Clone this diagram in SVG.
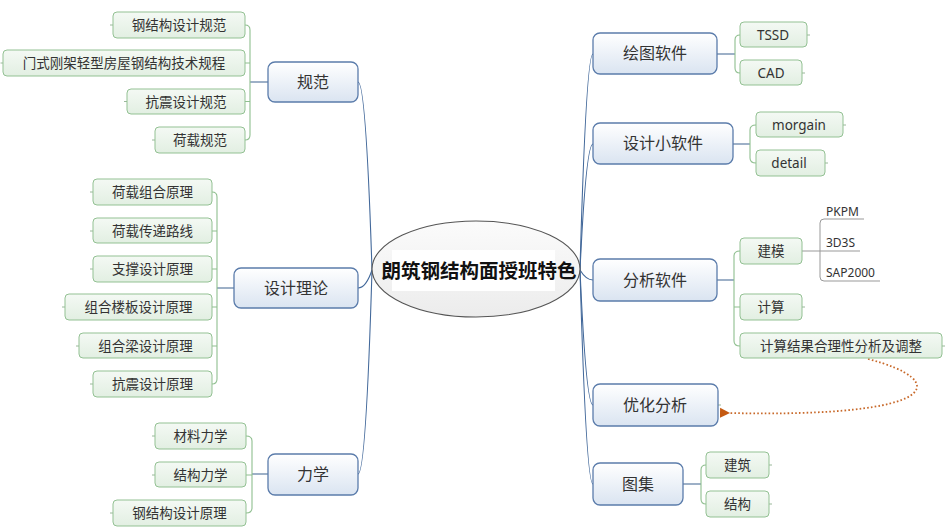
<svg xmlns="http://www.w3.org/2000/svg" width="946" height="530" viewBox="0 0 946 530">
<defs>
<linearGradient id="gBlue" x1="0" y1="0" x2="0" y2="1"><stop offset="0" stop-color="#ffffff"/><stop offset="1" stop-color="#dae4f1"/></linearGradient>
<linearGradient id="gGreen" x1="0" y1="0" x2="0" y2="1"><stop offset="0" stop-color="#f4f9f4"/><stop offset="1" stop-color="#e2efe2"/></linearGradient>
<linearGradient id="gCenter" x1="0" y1="0" x2="0" y2="1"><stop offset="0" stop-color="#fbfbfb"/><stop offset="1" stop-color="#ececec"/></linearGradient>
<marker id="arr" viewBox="0 0 10 10" refX="1" refY="5" markerWidth="10" markerHeight="12" markerUnits="userSpaceOnUse" orient="auto-start-reverse"><path d="M0,5 L10,0 L10,10 Z" fill="#c55a11"/></marker>
</defs>
<style>
.main rect{fill:url(#gBlue);stroke:#5b7cab;stroke-width:1.3}
.main text{font-family:"Noto Sans CJK SC","Noto Sans",sans-serif;font-size:16px;fill:#333;text-anchor:middle}
.leaf rect{fill:url(#gGreen);stroke:#93c193;stroke-width:1}
.leaf text{font-family:"Noto Sans","Noto Sans CJK SC",sans-serif;font-size:13.5px;fill:#333;text-anchor:middle}
.plain text{font-family:"Noto Sans",sans-serif;font-size:12px;fill:#333}
.trunk{fill:none;stroke:#42689a;stroke-width:1.1}
.stub{fill:none;stroke:#4d6f99;stroke-width:1.1}
.br{fill:none;stroke:#8fbf8f;stroke-width:1.1}
.tick{fill:none;stroke:#9ab89a;stroke-width:1}
.ul{fill:none;stroke:#999;stroke-width:1}
</style>
<rect width="946" height="530" fill="#fff"/>
<g id="connectors">
<path class="trunk" d="M372,270 Q366,82 358,82"/>
<path class="trunk" d="M372,270 Q366,288 358,288"/>
<path class="trunk" d="M372,270 Q366,474 358,474"/>
<path class="trunk" d="M580,270 Q586,54 593,54"/>
<path class="trunk" d="M580,270 Q586,144 593,144"/>
<path class="trunk" d="M580,270 Q586,280 593,280"/>
<path class="trunk" d="M580,270 Q586,405 593,405"/>
<path class="trunk" d="M580,270 Q586,484 593,484"/>
<!-- 规范 bracket -->
<path class="stub" d="M268,82 H250"/>
<path class="br" d="M245,25 Q250,25 250,30 V135 Q250,140 245,140 M245,63 H250 M245,101.5 H250"/>
<!-- 设计理论 bracket -->
<path class="stub" d="M234,288 H217"/>
<path class="br" d="M212,192 Q217,192 217,197 V379 Q217,384 212,384 M212,231 H217 M212,269 H217 M212,307 H217 M212,346 H217"/>
<!-- 力学 bracket -->
<path class="stub" d="M268,474 H252"/>
<path class="br" d="M246,436 Q252,436 252,441 V508 Q252,513 246,513 M246,475 H252"/>
<!-- 绘图软件 bracket -->
<path class="stub" d="M717,54 H735"/>
<path class="br" d="M740,35 Q735,35 735,40 V68 Q735,73 740,73"/>
<!-- 设计小软件 bracket -->
<path class="stub" d="M733,144 H750"/>
<path class="br" d="M756,125 Q750,125 750,130 V158 Q750,163 756,163"/>
<!-- 分析软件 bracket -->
<path class="stub" d="M717,280 H734"/>
<path class="br" d="M740,251 Q734,251 734,256 V341 Q734,346 740,346 M734,307 H740"/>
<!-- 建模 bracket -->
<path class="ul" d="M802,251 H860 M864,219 H824 Q820,219 820,223 V277 Q820,281 824,281 H880"/>
<!-- 图集 bracket -->
<path class="stub" d="M683,484 H701"/>
<path class="br" d="M706,465 Q701,465 701,470 V499 Q701,504 706,504"/>
<!-- ticks -->
<path class="tick" d="M113,25 H110 M3,63 H0.5 M127,101.5 H124 M155,140 H152 M93,192 H90 M93,231 H90 M93,269 H90 M65,307 H62 M79,346 H76 M93,384 H90 M155,436 H152 M155,475 H152 M113,513 H110 M807,35 H810 M802,73 H805 M843,125 H846 M825,163 H828 M802,307 H805 M942,346 H945 M769,465 H772 M769,504 H772 M718,405 H721"/>
<!-- dotted arrow -->
<path d="M868,359 C950,380 945,418 729,413" fill="none" stroke="#c8692a" stroke-width="1.8" stroke-dasharray="1.6 2.2" marker-end="url(#arr)"/>
</g>
<g id="center">
<ellipse cx="476" cy="269" rx="104" ry="48" fill="url(#gCenter)" stroke="#555" stroke-width="1.1"/>
<rect x="392" y="250" width="163" height="41" fill="#fff"/>
<text x="479" y="278" font-family="Noto Sans CJK SC,sans-serif" font-size="19.5" font-weight="bold" fill="#111" text-anchor="middle">朗筑钢结构面授班特色</text>
</g>
<g id="n-guifan" class="main"><rect x="268" y="62" width="90" height="40" rx="7"/><text x="313" y="88">规范</text></g>
<g id="n-sheji" class="main"><rect x="234" y="268" width="124" height="40" rx="7"/><text x="296" y="294">设计理论</text></g>
<g id="n-lixue" class="main"><rect x="268" y="454" width="90" height="41" rx="7"/><text x="313" y="480">力学</text></g>
<g id="n-huitu" class="main"><rect x="593" y="33" width="124" height="41" rx="7"/><text x="655" y="59">绘图软件</text></g>
<g id="n-xiao" class="main"><rect x="593" y="123" width="140" height="41" rx="7"/><text x="663" y="149">设计小软件</text></g>
<g id="n-fenxi" class="main"><rect x="593" y="259" width="124" height="42" rx="7"/><text x="655" y="286">分析软件</text></g>
<g id="n-youhua" class="main"><rect x="593" y="384" width="125" height="42" rx="7"/><text x="655" y="411">优化分析</text></g>
<g id="n-tuji" class="main"><rect x="593" y="463" width="90" height="42" rx="7"/><text x="638" y="490">图集</text></g>
<g id="l1" class="leaf"><rect x="113" y="12" width="132" height="26" rx="4"/><text x="179" y="30">钢结构设计规范</text></g>
<g id="l2" class="leaf"><rect x="3" y="50" width="242" height="26" rx="4"/><text x="124" y="68">门式刚架轻型房屋钢结构技术规程</text></g>
<g id="l3" class="leaf"><rect x="127" y="89" width="118" height="25" rx="4"/><text x="186" y="106.5">抗震设计规范</text></g>
<g id="l4" class="leaf"><rect x="155" y="127" width="90" height="26" rx="4"/><text x="200" y="145">荷载规范</text></g>
<g id="l5" class="leaf"><rect x="93" y="179" width="119" height="26" rx="4"/><text x="152.5" y="197">荷载组合原理</text></g>
<g id="l6" class="leaf"><rect x="93" y="218" width="119" height="25" rx="4"/><text x="152.5" y="235.5">荷载传递路线</text></g>
<g id="l7" class="leaf"><rect x="93" y="256" width="119" height="26" rx="4"/><text x="152.5" y="274">支撑设计原理</text></g>
<g id="l8" class="leaf"><rect x="65" y="294" width="147" height="26" rx="4"/><text x="138.5" y="312">组合楼板设计原理</text></g>
<g id="l9" class="leaf"><rect x="79" y="333" width="133" height="25" rx="4"/><text x="145.5" y="350.5">组合梁设计原理</text></g>
<g id="l10" class="leaf"><rect x="93" y="371" width="119" height="26" rx="4"/><text x="152.5" y="389">抗震设计原理</text></g>
<g id="l11" class="leaf"><rect x="155" y="423" width="91" height="26" rx="4"/><text x="200.5" y="441">材料力学</text></g>
<g id="l12" class="leaf"><rect x="155" y="462" width="91" height="25" rx="4"/><text x="200.5" y="479.5">结构力学</text></g>
<g id="l13" class="leaf"><rect x="113" y="500" width="133" height="26" rx="4"/><text x="179.5" y="518">钢结构设计原理</text></g>
<g id="r1" class="leaf"><rect x="740" y="22" width="67" height="25" rx="4"/><text x="773" y="39.5">TSSD</text></g>
<g id="r2" class="leaf"><rect x="740" y="60" width="62" height="25" rx="4"/><text x="771" y="77.5">CAD</text></g>
<g id="r3" class="leaf"><rect x="756" y="112" width="87" height="25" rx="4"/><text x="799" y="129.5">morgain</text></g>
<g id="r4" class="leaf"><rect x="756" y="150" width="69" height="26" rx="4"/><text x="789" y="168">detail</text></g>
<g id="r5" class="leaf"><rect x="740" y="238" width="62" height="26" rx="4"/><text x="771" y="256">建模</text></g>
<g id="r6" class="leaf"><rect x="740" y="294" width="62" height="26" rx="4"/><text x="771" y="312">计算</text></g>
<g id="r7" class="leaf"><rect x="740" y="333" width="202" height="25" rx="4"/><text x="841" y="350.5">计算结果合理性分析及调整</text></g>
<g id="r8" class="leaf"><rect x="706" y="452" width="63" height="26" rx="4"/><text x="737.5" y="470">建筑</text></g>
<g id="r9" class="leaf"><rect x="706" y="491" width="63" height="26" rx="4"/><text x="737.5" y="509">结构</text></g>
<g id="p1" class="plain"><text x="826" y="216">PKPM</text></g>
<g id="p2" class="plain"><text x="826" y="247">3D3S</text></g>
<g id="p3" class="plain"><text x="826" y="277">SAP2000</text></g>
</svg>
